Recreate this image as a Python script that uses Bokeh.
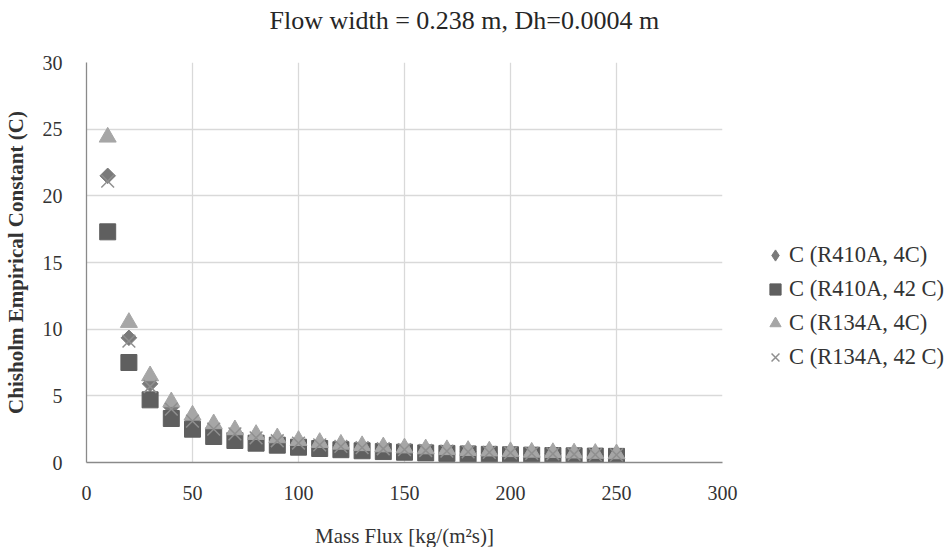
import numpy as np
from bokeh.plotting import figure
from bokeh.models import Legend, LegendItem, Range1d, FixedTicker, Title
from bokeh.embed import file_html
from bokeh.resources import INLINE

mass_flux = [10, 20, 30, 40, 50, 60, 70, 80, 90, 100, 110, 120, 130, 140, 150,
             160, 170, 180, 190, 200, 210, 220, 230, 240, 250]
c_r410a_4c = [21.5, 9.35, 5.9, 4.15, 3.2, 2.6, 2.2, 1.9, 1.7, 1.5, 1.37, 1.26, 1.16, 1.07,
              1.0, 0.93, 0.87, 0.82, 0.78, 0.74, 0.7, 0.67, 0.64, 0.61, 0.58]
c_r410a_42c = [17.3, 7.5, 4.7, 3.3, 2.5, 1.95, 1.65, 1.45, 1.3, 1.15, 1.05, 0.96, 0.88, 0.82,
               0.77, 0.72, 0.68, 0.64, 0.61, 0.58, 0.55, 0.52, 0.5, 0.48, 0.46]
c_r134a_4c = [24.4, 10.5, 6.5, 4.55, 3.55, 2.9, 2.45, 2.1, 1.85, 1.65, 1.5, 1.37, 1.26, 1.17,
              1.09, 1.02, 0.96, 0.9, 0.86, 0.81, 0.77, 0.74, 0.71, 0.68, 0.65]
c_r134a_42c = [21.1, 9.1, 5.7, 4.0, 3.1, 2.5, 2.15, 1.85, 1.63, 1.46, 1.32, 1.21, 1.11, 1.03,
               0.96, 0.9, 0.85, 0.8, 0.76, 0.72, 0.68, 0.65, 0.62, 0.59, 0.57]
series_labels = ["C (R410A, 4C)", "C (R410A, 42 C)", "C (R134A, 4C)", "C (R134A, 42 C)"]
chart_title = "Flow width = 0.238 m, Dh=0.0004 m"
x_ticks = [0, 50, 100, 150, 200, 250, 300]
y_ticks = [0, 5, 10, 15, 20, 25, 30]

FONT = "Liberation Serif"
TXT = "#333333"

p = figure(frame_width=636, frame_height=400,
           min_border_left=79, min_border_top=61, min_border_right=221, min_border_bottom=84,
           x_range=Range1d(0, 300), y_range=Range1d(0, 30),
           output_backend="svg", toolbar_location=None)
p.outline_line_color = None
p.background_fill_color = "white"
p.border_fill_color = "white"

# spacer between the frame and the title, then the title itself
p.add_layout(Title(text=" ", text_font_size="1px", standoff=19), "above")
p.add_layout(Title(text=chart_title, text_font=FONT, text_font_size="26px",
                   text_font_style="normal", text_color="#262626", align="left",
                   offset=183, standoff=9, vertical_align="middle"), "above")

for ax in (p.xaxis[0], p.yaxis[0]):
    ax.major_tick_line_color = None
    ax.minor_tick_line_color = None
    ax.axis_line_color = "#8a8a8a"
    ax.axis_line_width = 1.3
    ax.major_label_text_font = FONT
    ax.major_label_text_font_size = "20px"
    ax.major_label_text_color = TXT
    ax.axis_label_text_font = FONT
    ax.axis_label_text_color = TXT
    ax.axis_label_text_font_size = "21px"

p.xaxis.ticker = FixedTicker(ticks=x_ticks)
p.yaxis.ticker = FixedTicker(ticks=y_ticks)
p.xaxis.axis_label = "Mass Flux [kg/(m\u00b2s)]"
p.xaxis.axis_label_text_font_style = "normal"
p.yaxis.axis_label = "Chisholm Empirical Constant (C)"
p.yaxis.axis_label_text_font_style = "bold"
p.yaxis.major_label_standoff = 18
p.xaxis.major_label_standoff = 17
p.yaxis.axis_label_standoff = 12
p.xaxis.axis_label_standoff = 21

p.xgrid.grid_line_color = "#d9d9d9"
p.ygrid.grid_line_color = "#d9d9d9"
p.xgrid.grid_line_width = 1.3
p.ygrid.grid_line_width = 1.3

C1, C2, C3, C4 = "#7a7a7a", "#5f5f5f", "#a6a6a6", "#8f8f8f"
# small diamond glyph (hidden under the rotated squares) used for the legend entry
r1_leg = p.scatter(mass_flux, c_r410a_4c, marker="diamond", size=10,
                   fill_color=C1, line_color=C1)
r1 = p.scatter(mass_flux, c_r410a_4c, marker="square", angle=np.pi / 4, size=11,
               fill_color=C1, line_color=C1)
r2 = p.scatter(mass_flux, c_r410a_42c, marker="square", size=16,
               fill_color=C2, line_color=C2)
r3 = p.scatter(mass_flux, c_r134a_4c, marker="triangle", size=17,
               fill_color=C3, line_color=C3)
r4 = p.scatter(mass_flux, c_r134a_42c, marker="x", size=18, line_width=1.5,
               line_color=C4)

legend = Legend(items=[LegendItem(label=series_labels[0], renderers=[r1_leg]),
                       LegendItem(label=series_labels[1], renderers=[r2]),
                       LegendItem(label=series_labels[2], renderers=[r3]),
                       LegendItem(label=series_labels[3], renderers=[r4])],
                location=(39, 88), padding=0, margin=0, spacing=0,
                glyph_width=28, glyph_height=34, label_height=34, label_standoff=-5,
                label_text_font=FONT, label_text_font_size="22.5px", label_text_color=TXT,
                border_line_color=None, background_fill_alpha=0)
p.add_layout(legend, "right")

open("out.html", "w").write(file_html(p, INLINE))
